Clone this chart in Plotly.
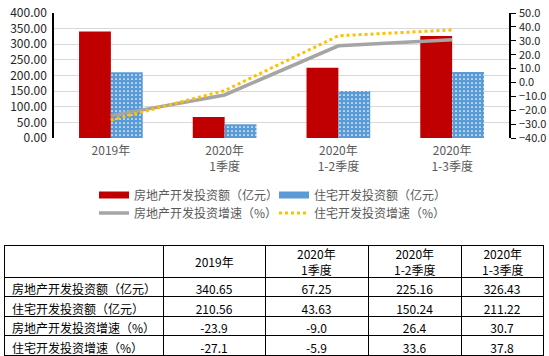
import plotly.graph_objects as go

categories = ["2019年", "2020年<br>1季度", "2020年<br>1-2季度", "2020年<br>1-3季度"]
table_headers = ["", "2019年", "2020年<br>1季度", "2020年<br>1-2季度", "2020年<br>1-3季度"]
series_names = ["房地产开发投资额（亿元）", "住宅开发投资额（亿元）",
                "房地产开发投资增速（%）", "住宅开发投资增速（%）"]
realestate_invest = [340.65, 67.25, 225.16, 326.43]
housing_invest = [210.56, 43.63, 150.24, 211.22]
realestate_growth = [-23.9, -9.0, 26.4, 30.7]
housing_growth = [-27.1, -5.9, 33.6, 37.8]

W, H = 549, 356
RED = "#C00000"
BLUE = "#5B9BD5"
GRAY = "#A5A5A5"
GOLD = "#FFC000"
FONT = "Noto Sans CJK SC"

fig = go.Figure()

fig.add_trace(go.Bar(x=categories, y=realestate_invest, name=series_names[0],
                     marker=dict(color=RED, line=dict(width=0)), showlegend=False))
fig.add_trace(go.Bar(x=categories, y=housing_invest, name=series_names[1],
                     marker=dict(color=BLUE, line=dict(width=0),
                                 pattern=dict(shape=".", fgcolor="white", bgcolor=BLUE,
                                              size=4, solidity=0.15, fillmode="replace")),
                     showlegend=False))
fig.add_trace(go.Scatter(x=categories, y=realestate_growth, name=series_names[2], yaxis="y2",
                         mode="lines", line=dict(color=GRAY, width=3.5), showlegend=False))
fig.add_trace(go.Scatter(x=categories, y=housing_growth, name=series_names[3], yaxis="y2",
                         mode="lines", line=dict(color=GOLD, width=3, dash="dot"), showlegend=False))

# legend-only entries
fig.add_trace(go.Scatter(x=[None], y=[None], name=series_names[0], mode="lines",
                         line=dict(color=RED, width=7), legend="legend"))
fig.add_trace(go.Scatter(x=[None], y=[None], name=series_names[1], mode="lines",
                         line=dict(color=BLUE, width=7), legend="legend"))
fig.add_trace(go.Scatter(x=[None], y=[None], name=series_names[2], mode="lines",
                         line=dict(color=GRAY, width=3.5), legend="legend2"))
fig.add_trace(go.Scatter(x=[None], y=[None], name=series_names[3], mode="lines",
                         line=dict(color=GOLD, width=3, dash="dot"), legend="legend2"))

# table
col_widths = [159, 102, 103, 93, 82]
tx0, ty_top = 4, 245
cols = [series_names] + [
    [f"{realestate_invest[i]:.2f}", f"{housing_invest[i]:.2f}",
     f"{realestate_growth[i]:.1f}", f"{housing_growth[i]:.1f}"] for i in range(4)]
fig.add_trace(go.Table(
    domain=dict(x=[tx0 / W, (tx0 + sum(col_widths)) / W], y=[0, 1 - ty_top / H]),
    columnwidth=col_widths,
    header=dict(values=[""] * len(table_headers), height=32, align="center",
                fill_color="white", line=dict(color="black", width=1),
                font=dict(family=FONT, size=12, color="black")),
    cells=dict(values=cols, height=19.5, align=["left", "center", "center", "center", "center"],
               fill_color="white", line=dict(color="black", width=1),
               font=dict(family=FONT, size=12, color="black")),
))

# header labels (two-line headers as annotations to keep header height)
annotations = []
xpos = tx0
for w, label in zip(col_widths, table_headers):
    if label:
        annotations.append(dict(text=label, x=(xpos + w / 2) / W, y=1 - (ty_top + 16.5) / H,
                                xref="paper", yref="paper", xanchor="center", yanchor="middle",
                                showarrow=False, align="center",
                                font=dict(family=FONT, size=12, color="black")))
    xpos += w

fig.update_layout(
    width=W, height=H,
    margin=dict(l=0, r=0, t=0, b=0, autoexpand=False),
    paper_bgcolor="white", plot_bgcolor="white",
    font=dict(family=FONT, size=12, color="#595959"),
    barmode="group", bargap=0.44, bargroupgap=0,
    annotations=annotations,
    xaxis=dict(domain=[54 / W, 509 / W], showgrid=False, showline=False, ticks="",
               tickfont=dict(size=12, color="#595959"), ticklabelstandoff=4, anchor="y",
               automargin=False),
    yaxis=dict(domain=[1 - 138 / H, 1 - 13 / H], range=[0, 400], dtick=50, tickformat=".2f",
               showgrid=True, gridcolor="#D9D9D9", gridwidth=1, zeroline=False,
               showline=True, linecolor="black", linewidth=1.5, ticks="",
               tickfont=dict(size=12, color="#262626"), ticklabelstandoff=3, automargin=False),
    yaxis2=dict(overlaying="y", side="right", range=[-40, 50], dtick=10, tickformat=".1f",
                showgrid=False, zeroline=False, showline=True, linecolor="black", linewidth=1.5,
                ticks="outside", ticklen=5, tickcolor="black", ticklabelstandoff=1,
                tickfont=dict(size=11, color="#262626"), anchor="x", automargin=False),
    legend=dict(orientation="h", x=94 / W, xanchor="left", y=1 - 195 / H, yanchor="middle",
                entrywidth=135, font=dict(size=12, color="#595959"), bgcolor="rgba(0,0,0,0)",
                itemclick=False),
    legend2=dict(orientation="h", x=94 / W, xanchor="left", y=1 - 213 / H, yanchor="middle",
                 entrywidth=135, font=dict(size=12, color="#595959"), bgcolor="rgba(0,0,0,0)",
                 itemclick=False),
)

fig.write_html("out.html", config={"displayModeBar": False},
               post_script="document.body.style.margin='0px';")
